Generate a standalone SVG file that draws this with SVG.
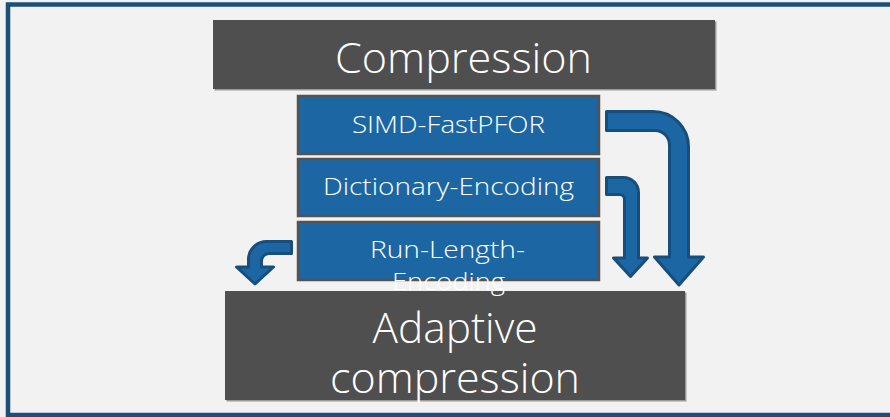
<svg xmlns="http://www.w3.org/2000/svg" width="890" height="417" viewBox="0 0 890 417">
<style>
.bg{fill:#f2f2f2}
.frame{fill:none;stroke:#1a4f7a;stroke-width:4.5}
.dark{fill:#4e4f4e}
.shadow{fill:#9a9a9a}
.blue{fill:#1c67a3;stroke:#535353;stroke-width:2.5}
.arrow{fill:#1c67a3;stroke:#174e7c;stroke-width:3;stroke-linejoin:round}
text{font-family:"Open Sans","Liberation Sans",sans-serif;font-weight:300;fill:#ffffff;text-anchor:middle}
.big{font-size:42px}
.mid{font-size:23.5px}
</style>
<rect class="bg" x="0" y="0" width="890" height="417"/>
<rect class="frame" x="8" y="4.5" width="900" height="410.5"/>
<g id="adaptive">
<rect class="shadow" x="226.5" y="292.5" width="460" height="109"/>
<rect class="dark" x="225" y="291" width="460" height="109"/>
<text class="big" x="455" y="343" textLength="165" lengthAdjust="spacingAndGlyphs">Adaptive</text>
<text class="big" x="455" y="393" textLength="250" lengthAdjust="spacingAndGlyphs">compression</text>
</g>
<g id="compression">
<rect class="shadow" x="214.5" y="21.5" width="502" height="69"/>
<rect class="dark" x="213" y="20" width="502" height="69"/>
<text class="big" x="463.5" y="73" textLength="257" lengthAdjust="spacingAndGlyphs">Compression</text>
</g>
<g id="simd">
<rect class="blue" x="298" y="96" width="301" height="58"/>
<text class="mid" x="448.5" y="133" textLength="193" lengthAdjust="spacingAndGlyphs">SIMD-FastPFOR</text>
</g>
<g id="dictionary">
<rect class="blue" x="298" y="159" width="301" height="57"/>
<text class="mid" x="448.5" y="195" textLength="251" lengthAdjust="spacingAndGlyphs">Dictionary-Encoding</text>
</g>
<g id="rle">
<rect class="blue" x="298" y="222" width="301" height="58"/>
<text class="mid" x="447.5" y="258" textLength="155" lengthAdjust="spacingAndGlyphs">Run-Length-</text>
<text class="mid" x="448.5" y="290" textLength="113" lengthAdjust="spacingAndGlyphs">Encoding</text>
</g>
<g id="connectors">
<path class="arrow" d="M606.5,111.5 H653 A35.5,35.5 0 0 1 688.5,147 V257 H703.5 L679,285 L654.5,257 H669.5 V145 A14.5,14.5 0 0 0 655,130.5 H606.5 Z"/>
<path class="arrow" d="M606.5,177.5 H623.5 A15,15 0 0 1 638.5,192.5 V258 H647.5 L630.5,276.5 L613.5,258 H624.5 V199 A4.5,4.5 0 0 0 620,194.5 H606.5 Z"/>
<path class="arrow" d="M291.5,241.5 H266.5 A18,18 0 0 0 248.5,259.5 V267 H236.5 L255,284 L273.5,267 H261.5 V261 A7.5,7.5 0 0 1 269,253.5 H291.5 Z"/>
</g>
</svg>
